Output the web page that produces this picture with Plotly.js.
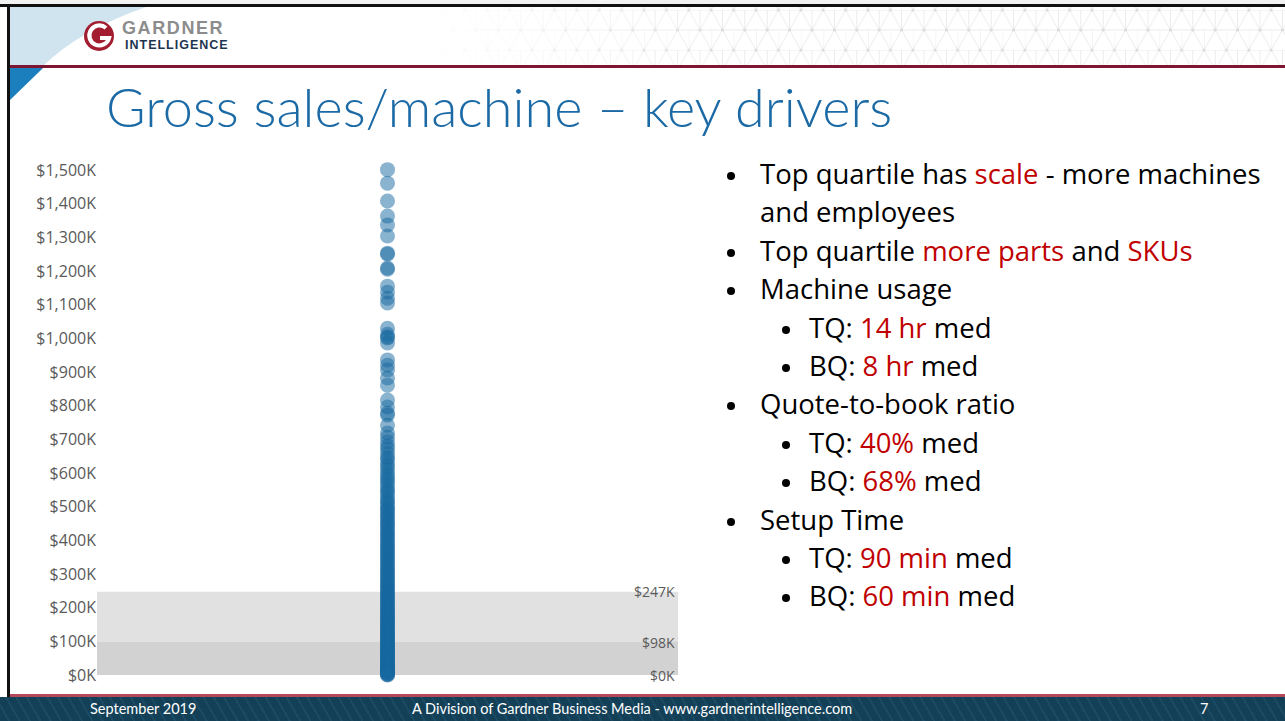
<!DOCTYPE html>
<html>
<head>
<meta charset="utf-8">
<script src="https://cdn.plot.ly/plotly-3.0.1.min.js"></script>
<style>
  html, body { margin:0; padding:0; width:1285px; height:721px; overflow:hidden; background:#ffffff; }
  #chart { position:absolute; left:0; top:0; width:1285px; height:721px; z-index:1; }
  .layer { position:absolute; pointer-events:none; }
  #title { position:absolute; left:106px; top:77px; font-family:Lato, 'Open Sans', sans-serif; font-weight:300;
           font-size:54px; color:#1b6aa5; white-space:nowrap; line-height:60px; z-index:3; }
  .b { position:absolute; font-family:'Open Sans', Lato, sans-serif; font-size:27.5px; color:#000; white-space:nowrap;
       line-height:30px; z-index:3; }
  .dot { position:absolute; width:8px; height:8px; border-radius:50%; background:#000; z-index:3; }
  .r { color:#c00000; }
  #footer { position:absolute; left:0; top:697px; width:1285px; height:24px; z-index:3;
            background: repeating-linear-gradient(60deg, #133f57 0px, #133f57 7px, #1b4b64 7px, #1b4b64 9px); }
  .ft { position:absolute; top:3px; font-family:Lato, 'Open Sans', sans-serif; font-size:14.5px; color:#ffffff; white-space:nowrap; line-height:18px; }
  #pattern { position:absolute; left:420px; top:7px; width:865px; height:58px; z-index:2;
             -webkit-mask-image: linear-gradient(to right, rgba(0,0,0,0) 0%, rgba(0,0,0,1) 35%);
             mask-image: linear-gradient(to right, rgba(0,0,0,0) 0%, rgba(0,0,0,1) 35%); }
</style>
</head>
<body>
<div id="chart"></div>

<!-- slide chrome -->
<svg class="layer" style="left:0;top:0;z-index:2" width="1285" height="721">
  <rect x="0" y="0" width="1285" height="5" fill="#f2f2f2"/>
  <path d="M10,7 L146,7 Q80,30 43,66 L10,66 Z" fill="#cfe4ef"/>
  <rect x="0" y="4" width="1285" height="3" fill="#111"/>
  <rect x="7" y="4" width="3" height="717" fill="#111"/>
  <rect x="10" y="65" width="1275" height="3" fill="#7d1630"/>
  <path d="M10,68 L43,68 L10,100 Z" fill="#1c7fbd"/>
  <rect x="10" y="694" width="1275" height="3" fill="#b5485a"/>
  <!-- logo -->
  <circle cx="99" cy="36" r="15" fill="#a31d31"/>
  <path d="M106,28 A10,10 0 1 0 109,38 L100,38" fill="none" stroke="#ffffff" stroke-width="4.2" stroke-linecap="butt"/>
  <text x="122" y="33.5" font-family="'Liberation Sans', Arial, sans-serif" font-weight="700" font-size="18" fill="#8c8c8c" letter-spacing="1.6">GARDNER</text>
  <text x="125" y="48.5" font-family="'Liberation Sans', Arial, sans-serif" font-weight="700" font-size="12.5" fill="#1e3550" letter-spacing="1">INTELLIGENCE</text>
</svg>

<svg id="pattern" width="865" height="58">
  <defs>
    <pattern id="tri" width="22.4" height="40" patternUnits="userSpaceOnUse" x="0" y="3">
      <g stroke="#e6e6e6" stroke-width="0.8" fill="none">
        <line x1="0" y1="0" x2="22.4" y2="0"/>
        <line x1="0" y1="20" x2="22.4" y2="20"/>
        <line x1="0" y1="0" x2="11.2" y2="20"/>
        <line x1="22.4" y1="0" x2="11.2" y2="20"/>
        <line x1="11.2" y1="20" x2="0" y2="40"/>
        <line x1="11.2" y1="20" x2="22.4" y2="40"/>
        <line x1="11.2" y1="0" x2="11.2" y2="20"/>
        <line x1="0" y1="20" x2="0" y2="40"/>
      </g>
      <circle cx="0" cy="0" r="1.6" fill="#dcdcdc"/>
      <circle cx="22.4" cy="0" r="1.6" fill="#dcdcdc"/>
      <circle cx="11.2" cy="20" r="1.6" fill="#dcdcdc"/>
      <circle cx="0" cy="40" r="1.6" fill="#dcdcdc"/>
      <circle cx="22.4" cy="40" r="1.6" fill="#dcdcdc"/>
    </pattern>
  </defs>
  <rect x="0" y="0" width="865" height="58" fill="url(#tri)"/>
</svg>

<div id="title">Gross sales/machine – key drivers</div>

<div id="bullets"></div>

<div id="footer">
  <div class="ft" style="left:90px">September 2019</div>
  <div class="ft" style="left:412px">A Division of Gardner Business Media - www.gardnerintelligence.com</div>
  <div class="ft" style="left:1200px">7</div>
</div>

<script>
// ---------------- data ----------------
// Gross sales per machine, $K, one dot per shop (read off the strip)
const salesPerMachine = [
  1501, 1461, 1408, 1363, 1337, 1304, 1253, 1250, 1209, 1205, 1155, 1137, 1119, 1105,
  1030, 1012, 1004, 1001, 986, 936, 920, 906, 882, 861, 817, 796, 778, 772, 742, 719,
  706, 692, 680, 671, 658, 646, 640, 629, 619, 611, 600, 592, 583, 575, 566, 556, 548,
  541, 532, 523, 516, 509, 501, 494, 488, 481, 473, 468, 460, 453, 447, 441, 434, 428,
  421, 416, 409, 403, 396, 391, 384, 378, 373, 366, 361, 355, 349, 343, 338, 331, 326,
  320, 314, 309, 303, 298, 292, 287, 281, 276, 270, 266, 260, 255, 250, 246, 240, 235,
  231, 226, 221, 216, 212, 207, 202, 198, 193, 189, 185, 180, 176, 172, 167, 163, 159,
  155, 150, 147, 143, 139, 134, 131, 127, 123, 119, 116, 112, 108, 104, 101, 98, 94, 91,
  87, 84, 80, 77, 74, 70, 67, 64, 61, 58, 55, 52, 49, 46, 43, 40, 37, 34, 32, 29, 26,
  24, 21, 19, 16, 14, 12, 10, 8, 6, 4, 3, 1, 0
];
// quartile bands ($K)
const bandBottoms = [0, 98];
const bandTops    = [98, 247];
const bandColors  = ['#d2d2d2', '#e1e1e1'];
const bandLabelValues = [247, 98, 0];
const bandLabelTexts  = ['$247K', '$98K', '$0K'];
// y axis ticks
const yTicks = [0,100,200,300,400,500,600,700,800,900,1000,1100,1200,1300,1400,1500];
const yTickLabels = ['$0K','$100K','$200K','$300K','$400K','$500K','$600K','$700K','$800K',
                     '$900K','$1,000K','$1,100K','$1,200K','$1,300K','$1,400K','$1,500K'];

// bullet text (level, html, has bullet)
const bulletLines = [
  [1, 'Top quartile has <span class="r">scale</span> - more machines', true],
  [1, 'and employees', false],
  [1, 'Top quartile <span class="r">more parts</span> and <span class="r">SKUs</span>', true],
  [1, 'Machine usage', true],
  [2, 'TQ: <span class="r">14 hr</span> med', true],
  [2, 'BQ: <span class="r">8 hr</span> med', true],
  [1, 'Quote-to-book ratio', true],
  [2, 'TQ: <span class="r">40%</span> med', true],
  [2, 'BQ: <span class="r">68%</span> med', true],
  [1, 'Setup Time', true],
  [2, 'TQ: <span class="r">90 min</span> med', true],
  [2, 'BQ: <span class="r">60 min</span> med', true]
];

// ---------------- bullets ----------------
const bl = document.getElementById('bullets');
bulletLines.forEach((ln, i) => {
  const top = 159 + i * 38.4;
  const lvl = ln[0];
  const tx = lvl === 1 ? 760 : 809;
  const bx = lvl === 1 ? 727 : 782;
  if (ln[2]) {
    const d = document.createElement('div');
    d.className = 'dot';
    d.style.left = bx + 'px';
    d.style.top = (top + 13) + 'px';
    bl.appendChild(d);
  }
  const t = document.createElement('div');
  t.className = 'b';
  t.style.left = tx + 'px';
  t.style.top = top + 'px';
  t.innerHTML = ln[1];
  bl.appendChild(t);
});

// ---------------- chart ----------------
const yMin = -44.5, yMax = 1559.4;
const trace = {
  type: 'scatter',
  mode: 'markers',
  x: salesPerMachine.map(() => 0),
  y: salesPerMachine,
  marker: { size: 15, color: '#15679f', opacity: 0.5, line: { width: 0 } },
  hoverinfo: 'skip'
};
const shapes = bandBottoms.map((b, i) => ({
  type: 'rect', xref: 'paper', yref: 'y', x0: 0, x1: 1, y0: b, y1: bandTops[i],
  fillcolor: bandColors[i], line: { width: 0 }, layer: 'below'
}));
const annotations = bandLabelValues.map((v, i) => ({
  xref: 'paper', yref: 'y', x: 1, y: v, xanchor: 'right', yanchor: 'middle', xshift: -1,
  text: bandLabelTexts[i], showarrow: false,
  font: { family: "'Open Sans', sans-serif", size: 14, color: '#5a5a5a' }
}));
const layout = {
  width: 1285, height: 721,
  margin: { l: 97, r: 607, t: 150, b: 31, pad: 0 },
  paper_bgcolor: 'rgba(0,0,0,0)',
  plot_bgcolor: 'rgba(0,0,0,0)',
  showlegend: false,
  xaxis: { range: [-1, 1], visible: false, fixedrange: true },
  yaxis: {
    range: [yMin, yMax], tickmode: 'array', tickvals: yTicks, ticktext: yTickLabels,
    showgrid: false, zeroline: false, showline: false, ticks: '',
    ticklabelstandoff: 0,
    tickfont: { family: "'Open Sans', sans-serif", size: 16, color: '#5a5a5a' }
  },
  shapes: shapes,
  annotations: annotations
};
Plotly.newPlot('chart', [trace], layout, { staticPlot: true, displayModeBar: false });
</script>
</body>
</html>
